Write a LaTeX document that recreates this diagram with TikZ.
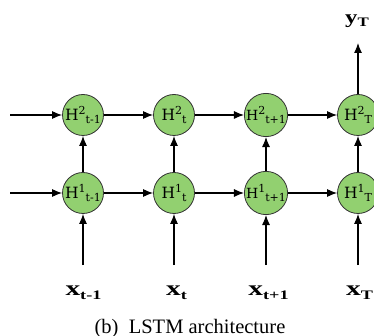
\documentclass[tikz,border=0pt]{standalone}
\usepackage{fontspec}
\usepackage{graphicx}
\setmainfont{Liberation Serif}
\newfontfamily\nodefont{DejaVu Serif}
\usetikzlibrary{arrows.meta}
\definecolor{cellgreen}{RGB}{146,208,112}
\newcommand{\hcell}[3][15.5]{{\nodefont\fontsize{#1}{#1}\selectfont H\raisebox{5.5pt}{\fontsize{11}{11}\selectfont #2}\raisebox{-3pt}{\fontsize{11}{11}\selectfont #3}}}
\newcommand{\xlab}[1]{\scalebox{1.4}[1]{\fontsize{21}{21}\selectfont\bfseries x\raisebox{-4pt}{\fontsize{13}{13}\selectfont #1}}}
\begin{document}
\begin{tikzpicture}[x=1pt,y=-1pt,
  cell/.style={circle,draw=black!80,line width=0.8pt,fill=cellgreen,minimum size=41pt,inner sep=0pt},
  conn/.style={line width=1.1pt,-{Latex[length=10pt,width=8pt]}},
  lbl/.style={anchor=base,inner sep=0pt}]
\useasboundingbox (0,0) rectangle (374,336);
\clip (0,0) rectangle (374,336);
% cells
\node[cell] (a2) at (83,115) {\hcell{2}{t-1}};
\node[cell] (b2) at (174,115) {\hcell{2}{t}};
\node[cell] (c2) at (266,115) {\hcell[14]{2}{t+1}};
\node[cell] (d2) at (358,115) {\hcell{2}{T}};
\node[cell] (a1) at (83,193) {\hcell{1}{t-1}};
\node[cell] (b1) at (174,193) {\hcell{1}{t}};
\node[cell] (c1) at (266,193) {\hcell[14]{1}{t+1}};
\node[cell] (d1) at (358,193) {\hcell{1}{T}};
% free ends
\coordinate (in2) at (10,115);
\coordinate (in1) at (10,193);
\coordinate (xa) at (83,265);
\coordinate (xb) at (174,265);
\coordinate (xc) at (266,265);
\coordinate (xd) at (358,265);
\coordinate (out) at (358,43);
% horizontal
\draw[conn] (in2) -- (a2);
\draw[conn] (a2) -- (b2);
\draw[conn] (b2) -- (c2);
\draw[conn] (c2) -- (d2);
\draw[conn] (in1) -- (a1);
\draw[conn] (a1) -- (b1);
\draw[conn] (b1) -- (c1);
\draw[conn] (c1) -- (d1);
% vertical
\draw[conn] (a1) -- (a2);
\draw[conn] (b1) -- (b2);
\draw[conn] (c1) -- (c2);
\draw[conn] (d1) -- (d2);
\draw[conn] (xa) -- (a1);
\draw[conn] (xb) -- (b1);
\draw[conn] (xc) -- (c1);
\draw[conn] (xd) -- (d1);
\draw[conn] (d2) -- (out);
% labels
\node[lbl] (lxa) at (83.5,295) {\xlab{t-1}};
\node[lbl] (lxb) at (176.5,295) {\xlab{t}};
\node[lbl] (lxc) at (268.5,295) {\xlab{t+1}};
\node[lbl] (lxd) at (359.5,295) {\xlab{T}};
\node[lbl] (ly) at (357,24) {\scalebox{1.3}[1]{\fontsize{19}{19}\selectfont\bfseries y\raisebox{-3pt}{\fontsize{13}{13}\selectfont T}}};
\node[lbl] (cap) at (190,333) {\fontsize{20.5}{20.5}\selectfont (b)\ \ LSTM architecture};
\end{tikzpicture}
\end{document}
